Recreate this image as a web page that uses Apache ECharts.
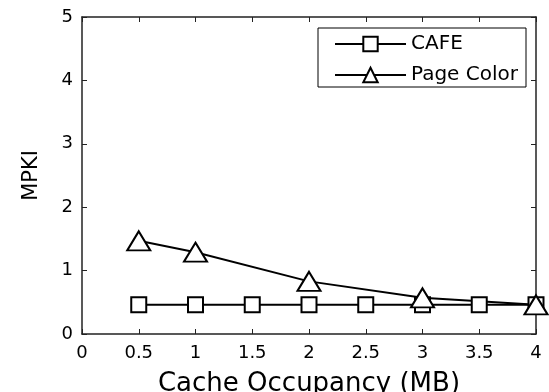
<!DOCTYPE html>
<html>
<head>
<meta charset="utf-8">
<script src="https://cdn.jsdelivr.net/npm/echarts@6/dist/echarts.min.js"></script>
<style>
  html, body { margin: 0; padding: 0; background: #fff; }
  #chart { width: 549px; height: 392px; }
</style>
</head>
<body>
<div id="chart"></div>
<script>
// values
const cafeX = [0.5, 1, 1.5, 2, 2.5, 3, 3.5, 4];
const cafeY = [0.46, 0.46, 0.46, 0.46, 0.46, 0.46, 0.46, 0.46];
const pageX = [0.5, 1, 2, 3, 4];
const pageY = [1.47, 1.29, 0.83, 0.57, 0.46];

const font = 'DejaVu Sans, Verdana, sans-serif';
const chart = echarts.init(document.getElementById('chart'));

const axisBase = {
  axisLine: { show: true, onZero: false, lineStyle: { color: '#222', width: 1.5 } },
  axisTick: { show: true, inside: true, length: 5, lineStyle: { color: '#222' } },
  splitLine: { show: false }
};

chart.setOption({
  animation: false,
  textStyle: { fontFamily: font },
  grid: { left: 82, right: 13, top: 17, bottom: 58, outerBoundsMode: 'none', containLabel: false },
  legend: {
    orient: 'vertical',
    right: 23,
    top: 28,
    padding: [6, 8, 2, 16],
    itemGap: 11,
    itemWidth: 71,
    itemHeight: 18,
    borderColor: '#000',
    borderWidth: 1,
    borderRadius: 0,
    backgroundColor: '#fff',
    textStyle: { fontSize: 20, color: '#000', fontFamily: font },
    data: ['CAFE', 'Page Color']
  },
  xAxis: [
    Object.assign({
      type: 'value', min: 0, max: 4, interval: 0.5,
      name: 'Cache Occupancy (MB)', nameLocation: 'middle', nameGap: 37,
      nameTextStyle: { fontSize: 26, color: '#000', fontFamily: font },
      axisLabel: { fontSize: 18, color: '#000', margin: 10, fontFamily: font }
    }, axisBase),
    Object.assign({
      type: 'value', min: 0, max: 4, interval: 0.5, position: 'top',
      axisLabel: { show: false }
    }, axisBase)
  ],
  yAxis: [
    Object.assign({
      type: 'value', min: 0, max: 5, interval: 1,
      name: 'MPKI', nameLocation: 'middle', nameGap: 40,
      nameTextStyle: { fontSize: 21, color: '#000', fontFamily: font },
      axisLabel: { fontSize: 18, color: '#000', margin: 9, fontFamily: font }
    }, axisBase),
    Object.assign({
      type: 'value', min: 0, max: 5, interval: 1, position: 'right',
      axisLabel: { show: false }
    }, axisBase)
  ],
  series: [
    {
      name: 'CAFE', type: 'line',
      data: cafeX.map((x, i) => [x, cafeY[i]]),
      symbol: 'rect', symbolSize: 15,
      lineStyle: { color: '#000', width: 2 },
      itemStyle: { color: '#fff', borderColor: '#000', borderWidth: 2 }
    },
    {
      name: 'Page Color', type: 'line',
      data: pageX.map((x, i) => [x, pageY[i]]),
      symbol: 'triangle', symbolSize: [23, 19],
      lineStyle: { color: '#000', width: 2 },
      itemStyle: { color: '#fff', borderColor: '#000', borderWidth: 2 }
    }
  ]
});
</script>
</body>
</html>
